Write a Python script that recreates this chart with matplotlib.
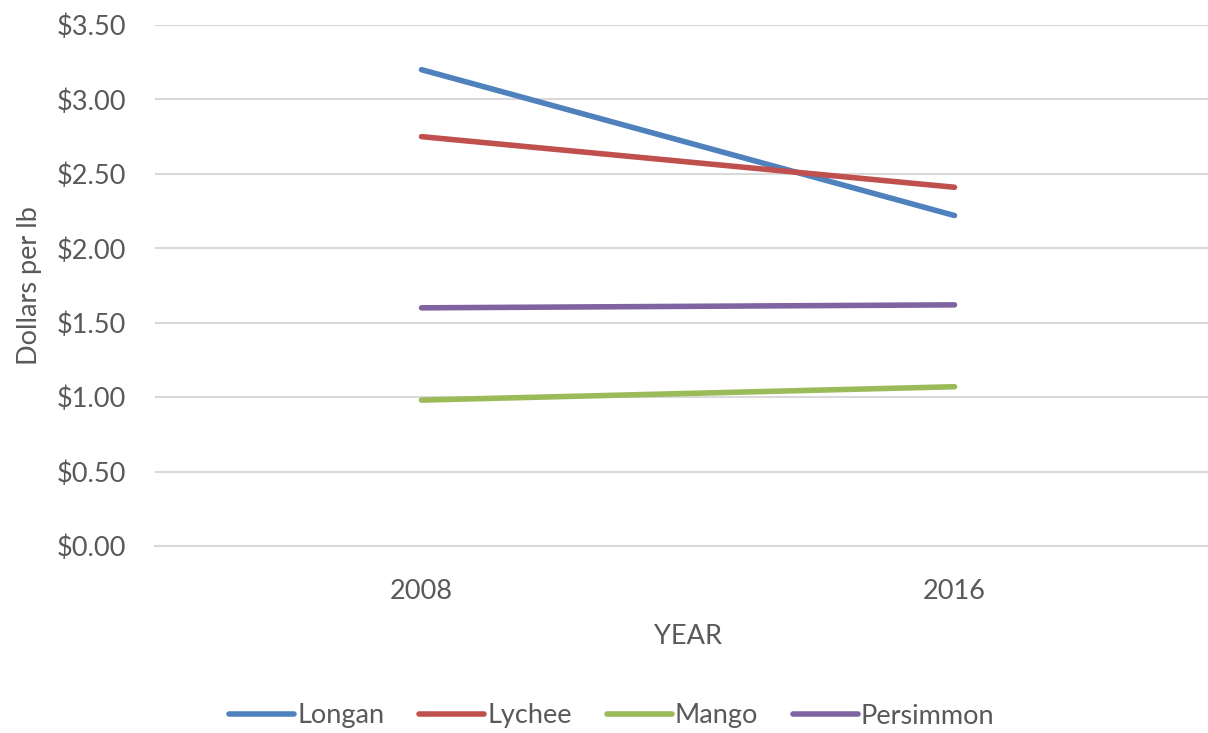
import matplotlib.pyplot as plt
from matplotlib.ticker import FuncFormatter

years = ['2008', '2016']
longan = [3.20, 2.22]
lychee = [2.75, 2.41]
mango = [0.98, 1.07]
persimmon = [1.60, 1.62]

series = [
    ('Longan', longan, '#4F81BD'),
    ('Lychee', lychee, '#C0504D'),
    ('Mango', mango, '#9BBB59'),
    ('Persimmon', persimmon, '#8064A2'),
]

plt.rcParams['font.family'] = ['Lato', 'DejaVu Sans']
texto = '#595959'

fig = plt.figure(figsize=(12.08, 7.33), dpi=100)
# a area do grafico passa um pouco da borda direita, como no original
ax = fig.add_axes([155 / 1208, 1 - 546 / 733, 1066 / 1208, 521 / 733])

x = list(range(len(years)))
for nome, valores, cor in series:
    ax.plot(x, valores, color=cor, linewidth=4.0, solid_capstyle='round', label=nome, zorder=3)

ax.set_xlim(-0.5, 1.5)
ax.set_ylim(0, 3.5)
ax.set_yticks([i * 0.5 for i in range(8)])
ax.yaxis.set_major_formatter(FuncFormatter(lambda v, p: f'${v:.2f}'))
ax.set_xticks(x)
ax.set_xticklabels(years)

ax.grid(axis='y', color='#d9d9d9', linewidth=1.5, zorder=0)
for lado in ['top', 'right', 'left']:
    ax.spines[lado].set_visible(False)
ax.spines['bottom'].set_color('#d9d9d9')
ax.spines['bottom'].set_linewidth(1.5)
ax.tick_params(length=0, labelsize=19.5, colors=texto, pad=21)
ax.tick_params(axis='x', pad=24)

fig.text(30 / 1208, 1 - 286 / 733, 'Dollars per lb', rotation=90, ha='center', va='center',
         fontsize=19.5, color=texto)
ax.set_xlabel('YEAR', fontsize=19.5, color=texto, labelpad=14)

fig.legend(loc='center', bbox_to_anchor=(612 / 1208, 1 - 716 / 733), ncol=4, frameon=False,
           fontsize=19.5, labelcolor=texto, handlelength=2.4, handletextpad=0.1, columnspacing=1.3)

fig.savefig('out.png', dpi=100)
